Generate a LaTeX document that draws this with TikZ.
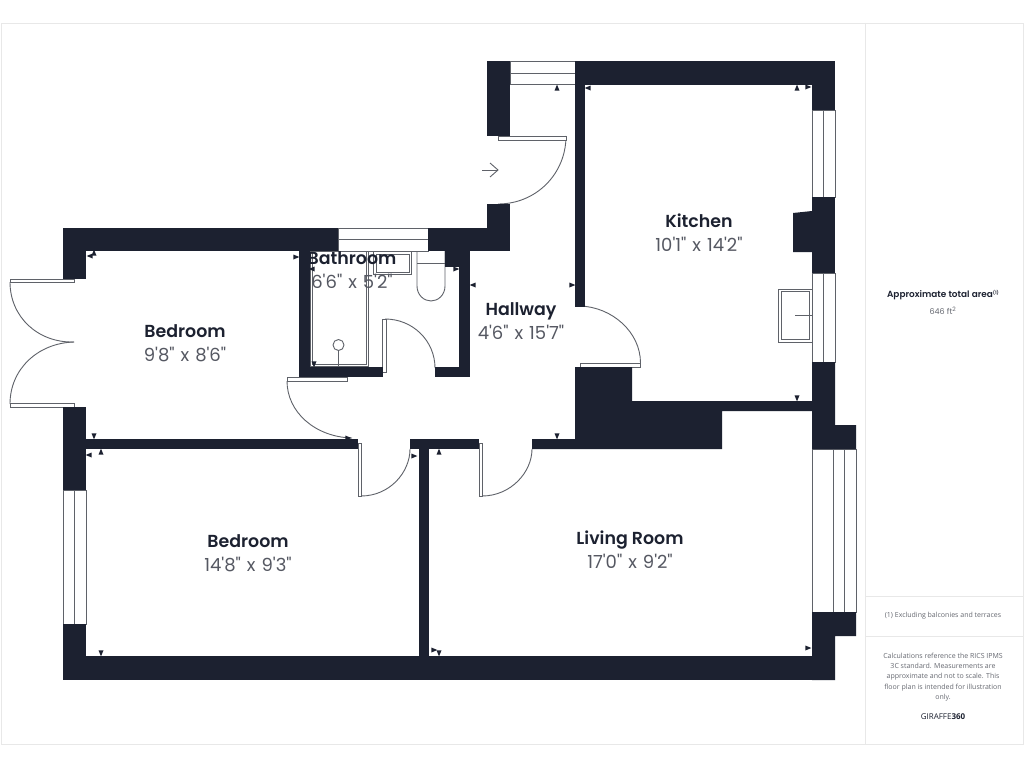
\documentclass[tikz,border=0pt]{standalone}
\usepackage{fontspec}
\setmainfont{Poppins}[BoldFont={Poppins SemiBold},Ligatures=TeXOff]
\newfontfamily\sizefont{Poppins}[Ligatures=TeXOff,Numbers=Monospaced]
\newfontfamily\smallfont{Open Sans}
\usetikzlibrary{shapes.geometric, positioning}
\definecolor{wallc}{HTML}{1C2130}
\definecolor{linec}{HTML}{5F6269}
\definecolor{dimc}{HTML}{555862}
\definecolor{notec}{HTML}{666971}
\definecolor{framec}{HTML}{E8E8E8}
\newcommand{\sizetext}{\sizefont\fontsize{18}{20}\selectfont\spaceskip=6pt\relax}

\begin{document}
\begin{tikzpicture}  [
        x=1pt, y=-1pt,
        node distance = 12pt,
        wall/.style = {fill=wallc},
        thin line/.style = {draw=linec, line width=0.9pt},
        leaf/.style = {draw=linec, fill=white, line width=0.9pt},
        frame/.style = {draw=framec, line width=0.9pt},
        room/.style = {text=wallc, font=\bfseries\fontsize{17.4}{20}\selectfont, inner sep=0pt, text height=12pt, text depth=0pt},
        size/.style = {text=dimc, font=\sizetext, inner sep=0pt, text height=12pt, text depth=0pt},
        note/.style = {text=notec, font=\smallfont\fontsize{7}{10.2}\selectfont, align=center, inner sep=0pt},
        tickup/.style = {isosceles triangle, shape border rotate=90, fill=wallc, inner sep=0pt, minimum height=6pt, minimum width=5pt, isosceles triangle stretches},
        tickdown/.style = {tickup, shape border rotate=-90},
        tickleft/.style = {tickup, shape border rotate=180},
        tickright/.style = {tickup, shape border rotate=0}
    ]

    \useasboundingbox (0,0) rectangle (1024,768);
    \fill[white] (0,0) rectangle (1024,768);

    % panel
    \draw[frame] (1,23) rectangle (1023,744);
    \draw[frame] (865.5,23) -- (865.5,744);
    \draw[frame] (865.5,596.5) -- (1023,596.5);
    \draw[frame] (865.5,636.5) -- (1023,636.5);

    % door swings
    \draw[thin line] (566,136) .. controls (566,174) and (536,204) .. (498,204);
    \draw[thin line] (640.5,363) .. controls (640.5,332) and (612,307) .. (580,306);
    \draw[thin line] (385,319) .. controls (413,319) and (435,341) .. (435,368);
    \draw[thin line] (287,381) .. controls (287,412) and (315,437) .. (352,438);
    \draw[thin line] (361,496) .. controls (390,496) and (410,472) .. (410,449);
    \draw[thin line] (482,496) .. controls (511,496) and (532,472) .. (532,449);
    \draw[thin line] (10,282) .. controls (10,317) and (38,343) .. (74,342);
    \draw[thin line] (10,404) .. controls (10,369) and (38,343) .. (74,342);

    % door leaves
    \draw[leaf] (498,136) rectangle (566,140);
    \draw[leaf] (580,363) rectangle (640.5,367);
    \draw[leaf] (382.5,319) rectangle (386,372);
    \draw[leaf] (287,377.5) rectangle (347,381.5);
    \draw[leaf] (358,443) rectangle (361.5,496);
    \draw[leaf] (479,443) rectangle (482.5,496);
    \draw[leaf] (10,279) rectangle (74,282.5);
    \draw[leaf] (10,403.5) rectangle (74,407);

    % windows
    \draw[leaf] (510,61) rectangle (575,84.5);
    \draw[thin line] (510,73) -- (575,73);
    \draw[leaf] (338,228) rectangle (428,251);
    \draw[thin line] (338,239.5) -- (428,239.5);
    \draw[leaf] (812,110) rectangle (835,197);
    \draw[thin line] (823.5,110) -- (823.5,197);
    \draw[leaf] (812,273) rectangle (835,362);
    \draw[thin line] (823.5,273) -- (823.5,362);
    \draw[leaf] (812,449) rectangle (856,612);
    \draw[thin line] (833,449) -- (833,612);
    \draw[thin line] (844.5,449) -- (844.5,612);
    \draw[leaf] (63,490) rectangle (86,624);
    \draw[thin line] (74.5,490) -- (74.5,624);

    % fixtures
    \draw[thin line] (310,251) rectangle (368,366);
    \draw[thin line] (312,251) rectangle (366,364);
    \draw[thin line] (338.5,345) circle (5.5);
    \draw[thin line] (338.5,350.5) -- (338.5,367);
    \draw[thin line] (373,251) rectangle (411,274);
    \draw[thin line] (376,254) rectangle (409,272);
    \draw[thin line] (417,251) -- (417,286) .. controls (417,295) and (424,301) .. (431,301) .. controls (438,301) and (445,295) .. (445,286) -- (445,251);
    \draw[thin line] (417,263) -- (445,263);
    \draw[thin line] (778.5,289) rectangle (812,342);
    \draw[thin line] (781,291) rectangle (809.5,339.5);
    \draw[thin line] (795,315) -- (812,315);

    % entrance arrow
    \draw[thin line] (482,170) -- (498,170);
    \draw[thin line] (490,163) -- (498,170) -- (490,177);

    % walls
    \fill[wall] (487,61) rectangle (510,136);
    \fill[wall] (575,61) rectangle (835,84.5);
    \fill[wall] (575,61) rectangle (585,307);
    \fill[wall] (812,61) rectangle (835,110);
    \fill[wall] (812,197) rectangle (835,273);
    \fill[wall] (793,213) -- (812,211) -- (812,252) -- (793,252) -- cycle;
    \fill[wall] (812,362) -- (835,362) -- (835,425) -- (856,425) -- (856,449) -- (812,449) -- cycle;
    \fill[wall] (812,612) -- (856,612) -- (856,636) -- (835,636) -- (835,680) -- (812,680) -- cycle;
    \fill[wall] (63,656) rectangle (835,680);
    \fill[wall] (63,624) rectangle (86,680);
    \fill[wall] (63,407) rectangle (86,490);
    \fill[wall] (63,228) rectangle (338,251);
    \fill[wall] (63,228) rectangle (86,279);
    \fill[wall] (428,228) rectangle (510,251);
    \fill[wall] (487,204) rectangle (510,251);
    \fill[wall] (445,251) rectangle (470,267);
    \fill[wall] (459,251) rectangle (470,377);
    \fill[wall] (435,367) rectangle (470,377);
    \fill[wall] (299,251) rectangle (310,377);
    \fill[wall] (299,367) rectangle (382.5,377);
    \fill[wall] (63,439) rectangle (358,449);
    \fill[wall] (410,439) rectangle (479,449);
    \fill[wall] (419,449) rectangle (429,656);
    \fill[wall] (575,367) -- (632,367) -- (632,401) -- (812,401) -- (812,411) -- (722,411) -- (722,449) -- (532,449) -- (532,439) -- (575,439) -- cycle;

    % dimension ticks
    \node[tickup]    (t1)  at (557,89)  {};
    \node[tickleft]  (t2)  at (589,88)  {};
    \node[tickup]    (t3)  at (797,89)  {};
    \node[tickright] (t4)  at (807,87)  {};
    \node[tickdown]  (t5)  at (797,397) {};
    \node[tickright] (t6)  at (571,285) {};
    \node[tickleft]  (t7)  at (474,285) {};
    \node[tickdown]  (t8)  at (557,435) {};
    \node[tickright] (t9)  at (295,257) {};
    \node[tickleft]  (t10) at (313,269) {};
    \node[tickright] (t11) at (455,269) {};
    \node[tickdown]  (t12) at (314,363) {};
    \node[tickleft]  (t13) at (91,256)  {};
    \node[tickup]    (t14) at (94,254)  {};
    \node[tickdown]  (t15) at (94,435)  {};
    \node[tickleft]  (t16) at (90,455)  {};
    \node[tickup]    (t17) at (101,453) {};
    \node[tickdown]  (t18) at (101,652) {};
    \node[tickright] (t19) at (413,456) {};
    \node[tickup]    (t20) at (439,453) {};
    \node[tickright] (t21) at (433,650) {};
    \node[tickdown]  (t22) at (439,652) {};
    \node[tickright] (t23) at (807,648) {};
    \node[tickright] (t24) at (347,438) {};

    % rooms
    \node[room] (kitchen)  at (699,221) {Kitchen};
    \node[size, below = of kitchen] (kitchensize) {10'1" x 14'2"};
    \node[room] (hallway)  at (521,309) {Hallway};
    \node[size, below = of hallway] (hallsize) {4'6" x 15'7"};
    \node[room] (bath)     at (352,258) {Bathroom};
    \node[size, below = of bath] (bathsize) {6'6" x 5'2"};
    \node[room] (bed1)     at (185,331) {Bedroom};
    \node[size, below = of bed1] (bed1size) {9'8" x 8'6"};
    \node[room] (bed2)     at (248,541) {Bedroom};
    \node[size, below = of bed2] (bed2size) {14'8" x 9'3"};
    \node[room] (living)   at (630,538) {Living Room};
    \node[size, below = of living] (livingsize) {17'0" x 9'2"};

    % panel text
    \node[text=wallc, inner sep=0pt, font=\bfseries\fontsize{8.9}{10}\selectfont] (area) at (943,295) {Approximate total area\raisebox{3.5pt}{\fontsize{4.5}{5}\selectfont(1)}};
    \node[note, font=\fontsize{8}{10}\selectfont] (areaval) at (943,311) {646 ft\textsuperscript{2}};
    \node[note] (excl) at (943,616) {(1) Excluding balconies and terraces};
    \node[note] (calc) at (943,677) {Calculations reference the RICS IPMS\\3C standard. Measurements are\\approximate and not to scale. This\\floor plan is intended for illustration\\only.};
    \node[note, text=wallc, font=\smallfont\fontsize{8}{10}\selectfont] (brand) at (943,717) {GIRAFFE\textbf{360}};

\end{tikzpicture}
\end{document}
